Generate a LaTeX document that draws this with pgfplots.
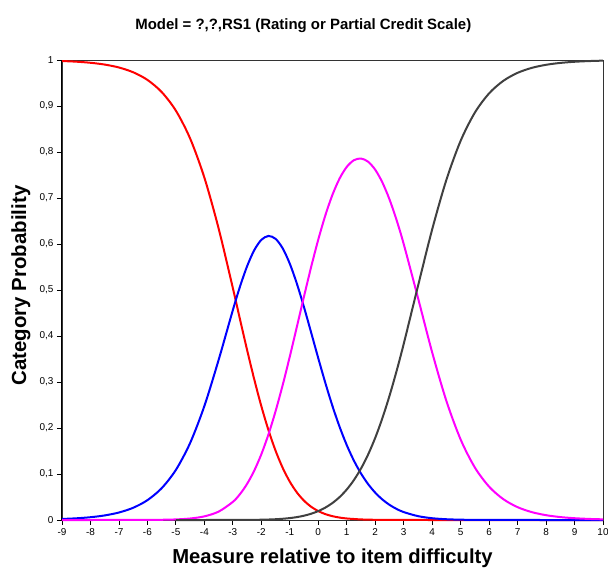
\documentclass[border=0pt]{standalone}
\usepackage{fontspec}
\setmainfont{Liberation Sans}
\usepackage{pgfplots}
\pgfplotsset{compat=1.18}
\definecolor{cat0}{RGB}{255,0,0}
\definecolor{cat1}{RGB}{0,0,255}
\definecolor{cat2}{RGB}{255,0,255}
\definecolor{cat3}{RGB}{64,64,64}

\begin{document}
\begin{tikzpicture}[x=1bp,y=1bp]
\begin{axis}[
    at={(0,0)}, anchor=south west,
    width=541bp, height=460bp, scale only axis,
    xmin=-9, xmax=10, ymin=0, ymax=1,
    xtick={-9,-8,-7,-6,-5,-4,-3,-2,-1,0,1,2,3,4,5,6,7,8,9,10},
    ytick={0,0.1,0.2,0.3,0.4,0.5,0.6,0.7,0.8,0.9,1},
    /pgf/number format/assume math mode=true,
    /pgf/number format/use comma,
    /pgf/number format/fixed,
    /pgf/number format/precision=1,
    tick align=outside, tick pos=left,
    major tick length=5bp,
    tick style={black, line width=0.8bp},
    axis line style={black!80, line width=0.8bp},
    ticklabel style={font=\fontsize{10}{12}\selectfont},
    title={Model = ?,?,RS1 (Rating or Partial Credit Scale)},
    title style={at={(axis description cs:0.446,1.061)}, anchor=center,
        font=\bfseries\fontsize{15}{18}\selectfont},
    xlabel={Measure relative to item difficulty},
    xlabel style={at={(axis description cs:0.5,-0.084)}, anchor=center,
        font=\bfseries\fontsize{20.3}{24}\selectfont},
    ylabel={Category Probability},
    ylabel style={at={(axis description cs:-0.076,0.51)}, anchor=center, rotate=0,
        font=\bfseries\fontsize{20.5}{24}\selectfont},
    clip=false,
]
% category 0
\addplot[cat0, line width=2bp, smooth] coordinates {
    (-9,0.99776) (-8.5,0.99632) (-8,0.99394) (-7.5,0.99004) (-7,0.98367)
    (-6.5,0.97334) (-6,0.95672) (-5.5,0.93040) (-5,0.88977) (-4.5,0.82934)
    (-4,0.74436) (-3.5,0.63389) (-3,0.50428) (-2.75,0.43652) (-2.5,0.36974)
    (-2.25,0.30612) (-2,0.24758) (-1.75,0.19552) (-1.5,0.15072) (-1.25,0.11343)
    (-1,0.08334) (-0.75,0.05981) (-0.5,0.04196) (-0.25,0.02879) (0,0.01935)
    (0.25,0.01276) (0.5,0.00826) (0.75,0.00526) (1,0.00330) (1.5,0.00124)
    (2,0.00044) (2.5,0.00015) (3,0.00005) (3.5,0.00001) (4,0) (5,0) (6,0)
    (7,0) (8,0) (9,0) (10,0)
};
% category 1
\addplot[cat1, line width=2bp, smooth] coordinates {
    (-9,0.00224) (-8.5,0.00368) (-8,0.00606) (-7.5,0.00995) (-7,0.01630)
    (-6.5,0.02659) (-6,0.04310) (-5.5,0.06911) (-5,0.10896) (-4.5,0.16744)
    (-4,0.24777) (-3.5,0.34789) (-3,0.45629) (-2.75,0.50717) (-2.5,0.55158)
    (-2.25,0.58639) (-2,0.60896) (-1.75,0.61748) (-1.5,0.61122) (-1.25,0.59062)
    (-1,0.55721) (-0.75,0.51348) (-0.5,0.46249) (-0.25,0.40752) (0,0.35171)
    (0.25,0.29770) (0.5,0.24749) (0.75,0.20235) (1,0.16291) (1.25,0.12927)
    (1.5,0.10116) (1.75,0.07809) (2,0.05946) (2.25,0.04464) (2.5,0.03302)
    (2.75,0.02405) (3,0.01724) (3.5,0.00842) (4,0.00385) (4.5,0.00166)
    (5,0.00068) (5.5,0.00027) (6,0.00010) (6.5,0.00004) (7,0.00001) (8,0)
    (9,0) (10,0)
};
% category 2
\addplot[cat2, line width=2bp, smooth] coordinates {
    (-9,0) (-8.5,0) (-8,0) (-7.5,0.00001) (-7,0.00003)
    (-6.5,0.00007) (-6,0.00019) (-5.5,0.00049) (-5,0.00127) (-4.5,0.00322)
    (-4,0.00787) (-3.5,0.01821) (-3,0.03937) (-2.75,0.05620) (-2.5,0.07848)
    (-2.25,0.10712) (-2,0.14284) (-1.75,0.18598) (-1.5,0.23638) (-1.25,0.29329)
    (-1,0.35529) (-0.75,0.42040) (-0.5,0.48620) (-0.25,0.55009) (0,0.60959)
    (0.25,0.66254) (0.5,0.70724) (0.75,0.74249) (1,0.76756) (1.25,0.78204)
    (1.5,0.78580) (1.75,0.77888) (2,0.76148) (2.25,0.73403) (2.5,0.69720)
    (2.75,0.65206) (3,0.60009) (3.5,0.48339) (4,0.36445) (4.5,0.25879)
    (5,0.17497) (5.5,0.11402) (6,0.07242) (6.5,0.04522) (7,0.02792)
    (7.5,0.01712) (8,0.01046) (8.5,0.00637) (9,0.00387) (9.5,0.00235)
    (10,0.00143)
};
% category 3
\addplot[cat3, line width=2bp, smooth] coordinates {
    (-5,0) (-4,0) (-3.5,0.00002) (-3,0.00006) (-2.75,0.00011) (-2.5,0.00020)
    (-2.25,0.00036) (-2,0.00061) (-1.75,0.00103) (-1.5,0.00167) (-1.25,0.00267)
    (-1,0.00415) (-0.75,0.00630) (-0.5,0.00936) (-0.25,0.01360) (0,0.01935)
    (0.25,0.02701) (0.5,0.03702) (0.75,0.04990) (1,0.06624) (1.25,0.08665)
    (1.5,0.11180) (1.75,0.14229) (2,0.17862) (2.25,0.22108) (2.5,0.26964)
    (2.75,0.32381) (3,0.38262) (3.5,0.50817) (4,0.63169) (4.5,0.73954)
    (5,0.82435) (5.5,0.88571) (6,0.92748) (6.5,0.95474) (7,0.97207)
    (7.5,0.98288) (8,0.98954) (8.5,0.99363) (9,0.99613) (9.5,0.99765)
    (10,0.99857)
};
\draw[black, line width=1bp] (rel axis cs:0,0) -- (rel axis cs:0,1);
\end{axis}
\pgfresetboundingbox
\path[use as bounding box] (-62,-50) rectangle (546,520);
\end{tikzpicture}
\end{document}
